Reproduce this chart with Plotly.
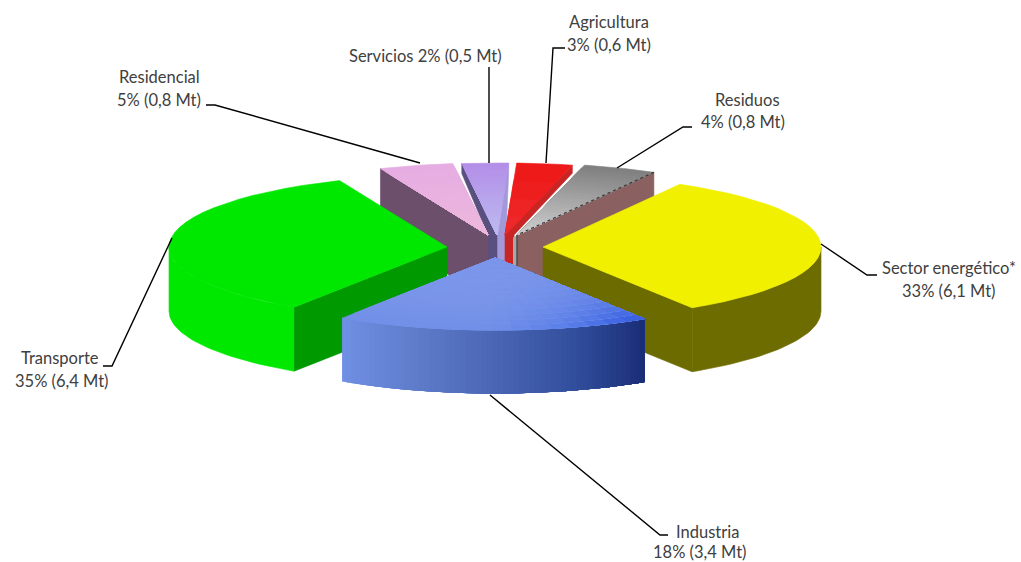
import numpy as np
import plotly.graph_objects as go

categories = ["Sector energético*", "Industria", "Transporte", "Residencial", "Servicios", "Agricultura", "Residuos"]
percent = [33, 18, 35, 5, 2, 3, 4]
mt_values = [6.1, 3.4, 6.4, 0.8, 0.5, 0.6, 0.8]
mt_labels = ["6,1", "3,4", "6,4", "0,8", "0,5", "0,6", "0,8"]

RX, RY, DEPTH = 278, 72, 64
START = 60.5
CENTERS = {"Sector energético*": (543, 247), "Industria": (495, 258), "Transporte": (447, 247),
           "Residencial": (488, 235), "Servicios": (497, 235), "Agricultura": (505, 235), "Residuos": (517, 235)}

spans = np.array(mt_values) / sum(mt_values) * 360
edges = START - np.concatenate([[0], np.cumsum(spans)])
ANG = {c: (edges[i], edges[i + 1]) for i, c in enumerate(categories)}

fig = go.Figure()


def hex2(c):
    return np.array([int(c[i:i + 2], 16) for i in (1, 3, 5)], float)


def mix(a, b, t):
    v = hex2(a) * (1 - t) + hex2(b) * t
    return "#%02x%02x%02x" % tuple(int(round(x)) for x in v)


def ramp(stops, t):
    t = min(max(t, 0), 1) * (len(stops) - 1)
    i = min(int(t), len(stops) - 2)
    return mix(stops[i], stops[i + 1], t - i)


def poly(xs, ys, color):
    fig.add_trace(go.Scatter(x=list(xs), y=list(ys), mode="lines", fill="toself", fillcolor=color,
                             line=dict(color=color, width=0.6), hoverinfo="skip", showlegend=False))


def rim(c, deg, scale=1.0):
    cx, cy = CENTERS[c]
    a = np.radians(deg)
    return cx + scale * RX * np.cos(a), cy - scale * RY * np.sin(a)


def sector(c, a0, a1, scale, color):
    cx, cy = CENTERS[c]
    x, y = rim(c, np.linspace(a0, a1, 30), scale)
    poly(np.r_[cx, x, cx], np.r_[cy, y, cy], color)


def top(c, rim_col, apex_col, rings=24):
    a0, a1 = ANG[c]
    for k in range(rings):
        s = 1 - k / rings
        sector(c, a0, a1, s, mix(apex_col, rim_col, s))


def face(c, deg, color, rim_drop=DEPTH, apex_drop=DEPTH, apex_dx=0):
    cx, cy = CENTERS[c]
    x, y = rim(c, deg)
    if apex_dx:
        poly([cx, x, x, cx + apex_dx, cx + apex_dx, cx, cx],
             [cy, y, y + rim_drop, cy, cy + apex_drop, cy + apex_drop, cy], color)
    else:
        poly([cx, x, x, cx, cx], [cy, y, y + rim_drop, cy + apex_drop, cy], color)


def outer(c, a0, a1, color):
    x, y = rim(c, np.linspace(a0, a1, 40))
    poly(np.r_[x, x[::-1]], np.r_[y, y[::-1] + DEPTH], color)


# Back wedges
c = "Servicios"
face(c, ANG[c][1], "#a29ad8", 10, 30, 9)
face(c, ANG[c][0], "#5a5080", 10, 30, -9)
top(c, "#b48fe8", "#bcbcf0")

c = "Residencial"
face(c, ANG[c][0], "#6b4f6b")
top(c, "#e6ade2", "#edb8dc")

c = "Agricultura"
face(c, ANG[c][1], "#c92525", 8, 32, 9)
top(c, "#ee1a1a", "#ee2c2c", rings=4)

c = "Residuos"
poly([513, 517, 517, 513], [238, 235, 270, 268], "#a8a8a8")
face(c, ANG[c][1], "#8a6060")
top(c, "#808080", "#d2d2d2")
ex, ey = rim(c, ANG[c][1])
cx, cy = CENTERS[c]
fig.add_trace(go.Scatter(x=[ex, cx], y=[ey, cy], mode="lines", line=dict(color="#333333", width=1.2, dash="dot"),
                         hoverinfo="skip", showlegend=False))
fig.add_trace(go.Scatter(x=[cx, cx], y=[cy, cy + 34], mode="lines", line=dict(color="#444444", width=1.2),
                         hoverinfo="skip", showlegend=False))

# Transporte
c = "Transporte"
face(c, ANG[c][0], "#009a00")
outer(c, ANG[c][0], -180, "#00e800")
top(c, "#00e800", "#00e800", rings=1)

# Sector energético
c = "Sector energético*"
face(c, ANG[c][1], "#6b6b00")
outer(c, ANG[c][1], 0, "#6c6c00")
top(c, "#f0f000", "#f0f000", rings=1)

# Industria
c = "Industria"
a0, a1 = ANG[c]
N = 60
wall_stops = ["#6f8fe4", "#5f7cca", "#4a66b4", "#33509e", "#1b2f78"]
grid = np.linspace(a1, a0, N + 1)
for i in range(N):
    x, y = rim(c, np.linspace(grid[i], a0, 30))
    poly(np.r_[x, x[::-1]], np.r_[y, y[::-1] + DEPTH - 1], ramp(wall_stops, i / (N - 1)))
rings, strips = 14, 16
agrid = np.linspace(a1, a0, strips + 1)
for k in range(rings):
    s = 1 - k / rings
    for j in range(strips):
        t = j / (strips - 1)
        rim_col = ramp(["#7290e8", "#7290e8", "#7290e8", "#5c80ea", "#3a62e2"], t)
        sector(c, agrid[j], a0, s, mix("#7b96ea", rim_col, s ** 3))

# Leader lines
leaders = [
    ([489, 489], [67, 163]),
    ([206, 215, 420], [105, 105, 163]),
    ([565, 553, 546], [48, 48, 163]),
    ([692, 683, 617], [127, 127, 168]),
    ([821, 867, 877], [244, 275, 275]),
    ([490, 660, 668], [395, 535, 535]),
    ([172, 112, 103], [238, 366, 366]),
]
for lx, ly in leaders:
    fig.add_trace(go.Scatter(x=lx, y=ly, mode="lines", line=dict(color="#000000", width=1.4),
                             hoverinfo="skip", showlegend=False))

# Labels
pos = {
    "Sector energético*": ((949, 268), (949, 291)),
    "Industria": ((707, 532), (700, 552)),
    "Transporte": ((60, 358), (62, 381)),
    "Residencial": ((159, 77), (159, 100)),
    "Agricultura": ((609, 22), (609, 45)),
    "Residuos": ((747, 100), (743, 122)),
}
FONT = dict(family="Lato", size=16.5, color="#404040")


def label(x, y, text):
    fig.add_annotation(x=x, y=y, text=text, showarrow=False, xanchor="center", yanchor="middle", font=FONT)


for i, c in enumerate(categories):
    value = f"{percent[i]}% ({mt_labels[i]} Mt)"
    if c == "Servicios":
        label(425, 56, f"{c} {value}")
    else:
        label(*pos[c][0], c)
        label(*pos[c][1], value)

fig.update_layout(
    width=1021, height=562, margin=dict(l=0, r=0, t=0, b=0),
    paper_bgcolor="white", plot_bgcolor="white",
    xaxis=dict(range=[0, 1021], visible=False, domain=[0, 1], fixedrange=True),
    yaxis=dict(range=[562, 0], visible=False, domain=[0, 1], fixedrange=True),
)
fig.write_html("out.html", config={"displayModeBar": False},
               post_script="document.body.style.margin='0';document.body.style.overflow='hidden';")
